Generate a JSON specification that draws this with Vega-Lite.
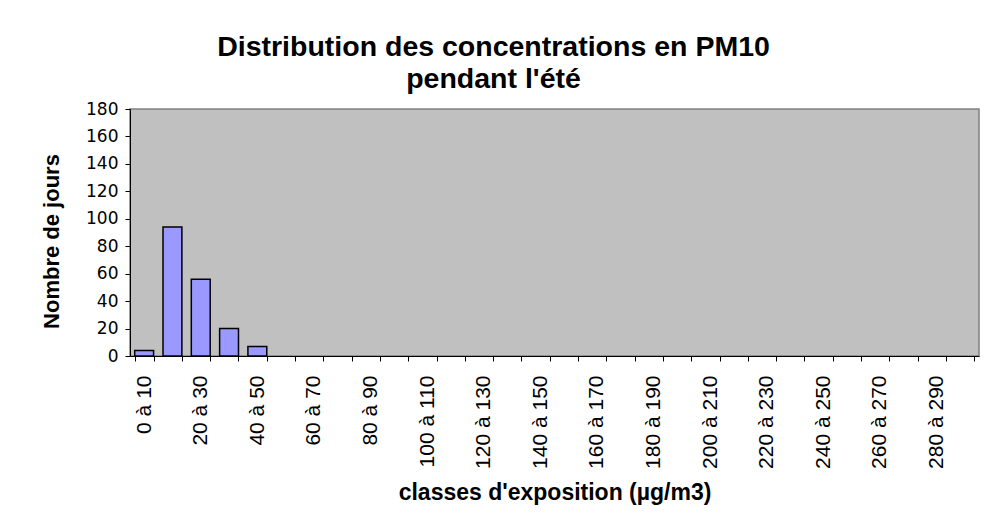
{
  "$schema": "https://vega.github.io/schema/vega-lite/v6.json",
  "autosize": {"type": "none"},
  "width": 849,
  "height": 247,
  "padding": {"left": 130, "top": 109, "right": 9, "bottom": 170},
  "background": "white",
  "title": {
    "text": ["Distribution des concentrations en PM10", "pendant l'été"],
    "font": "Liberation Sans",
    "fontSize": 28.5,
    "fontWeight": "bold",
    "color": "black",
    "anchor": "middle",
    "frame": "group",
    "dx": -61,
    "offset": -16,
    "lineHeight": 32,
    "baseline": "alphabetic"
  },
  "data": {
    "values": [
      {"classe": "0 à 10", "jours": 4},
      {"classe": "10 à 20", "jours": 94},
      {"classe": "20 à 30", "jours": 56},
      {"classe": "30 à 40", "jours": 20},
      {"classe": "40 à 50", "jours": 7},
      {"classe": "50 à 60", "jours": 0},
      {"classe": "60 à 70", "jours": 0},
      {"classe": "70 à 80", "jours": 0},
      {"classe": "80 à 90", "jours": 0},
      {"classe": "90 à 100", "jours": 0},
      {"classe": "100 à 110", "jours": 0},
      {"classe": "110 à 120", "jours": 0},
      {"classe": "120 à 130", "jours": 0},
      {"classe": "130 à 140", "jours": 0},
      {"classe": "140 à 150", "jours": 0},
      {"classe": "150 à 160", "jours": 0},
      {"classe": "160 à 170", "jours": 0},
      {"classe": "170 à 180", "jours": 0},
      {"classe": "180 à 190", "jours": 0},
      {"classe": "190 à 200", "jours": 0},
      {"classe": "200 à 210", "jours": 0},
      {"classe": "210 à 220", "jours": 0},
      {"classe": "220 à 230", "jours": 0},
      {"classe": "230 à 240", "jours": 0},
      {"classe": "240 à 250", "jours": 0},
      {"classe": "250 à 260", "jours": 0},
      {"classe": "260 à 270", "jours": 0},
      {"classe": "270 à 280", "jours": 0},
      {"classe": "280 à 290", "jours": 0},
      {"classe": "290 à 300", "jours": 0}
    ]
  },
  "mark": {"type": "bar", "fill": "#9999FF", "stroke": "black", "strokeWidth": 1.5},
  "transform": [{"filter": "datum.jours > 0"}],
  "encoding": {
    "x": {
      "field": "classe",
      "type": "nominal",
      "sort": null,
      "scale": {
        "domain": ["0 à 10","10 à 20","20 à 30","30 à 40","40 à 50","50 à 60","60 à 70","70 à 80","80 à 90","90 à 100","100 à 110","110 à 120","120 à 130","130 à 140","140 à 150","150 à 160","160 à 170","170 à 180","180 à 190","190 à 200","200 à 210","210 à 220","220 à 230","230 à 240","240 à 250","250 à 260","260 à 270","270 à 280","280 à 290","290 à 300"],
        "paddingInner": 0.3333,
        "paddingOuter": 0.1667
      },
      "axis": {
        "title": "classes d'exposition (µg/m3)",
        "titleFont": "Liberation Sans",
        "titleFontSize": 23,
        "titleFontWeight": "bold",
        "titleColor": "black",
        "titlePadding": 13,
        "labelFont": "Liberation Sans",
        "labelFontSize": 21,
        "labelColor": "black",
        "labelAngle": -90,
        "labelPadding": 14,
        "labelExpr": "parseInt(datum.label) % 20 === 0 ? datum.label : ''",
        "labelOverlap": false,
        "tickBand": "extent",
        "tickColor": "black",
        "tickSize": 5,
        "domainColor": "black",
        "grid": false
      }
    },
    "y": {
      "field": "jours",
      "type": "quantitative",
      "scale": {"domain": [0, 180], "nice": false},
      "axis": {
        "title": "Nombre de jours",
        "titleFont": "Liberation Sans",
        "titleFontSize": 22,
        "titleFontWeight": "bold",
        "titleColor": "black",
        "titlePadding": 22,
        "titleY": 132,
        "labelFont": "DejaVu Sans",
        "labelFontSize": 17,
        "labelColor": "black",
        "labelPadding": 7,
        "values": [0, 20, 40, 60, 80, 100, 120, 140, 160, 180],
        "tickColor": "black",
        "tickSize": 5,
        "domainColor": "black",
        "grid": false
      }
    }
  },
  "config": {
    "view": {"fill": "#C0C0C0", "stroke": "#808080", "strokeWidth": 1.5},
    "axis": {"labelFlush": false}
  }
}
